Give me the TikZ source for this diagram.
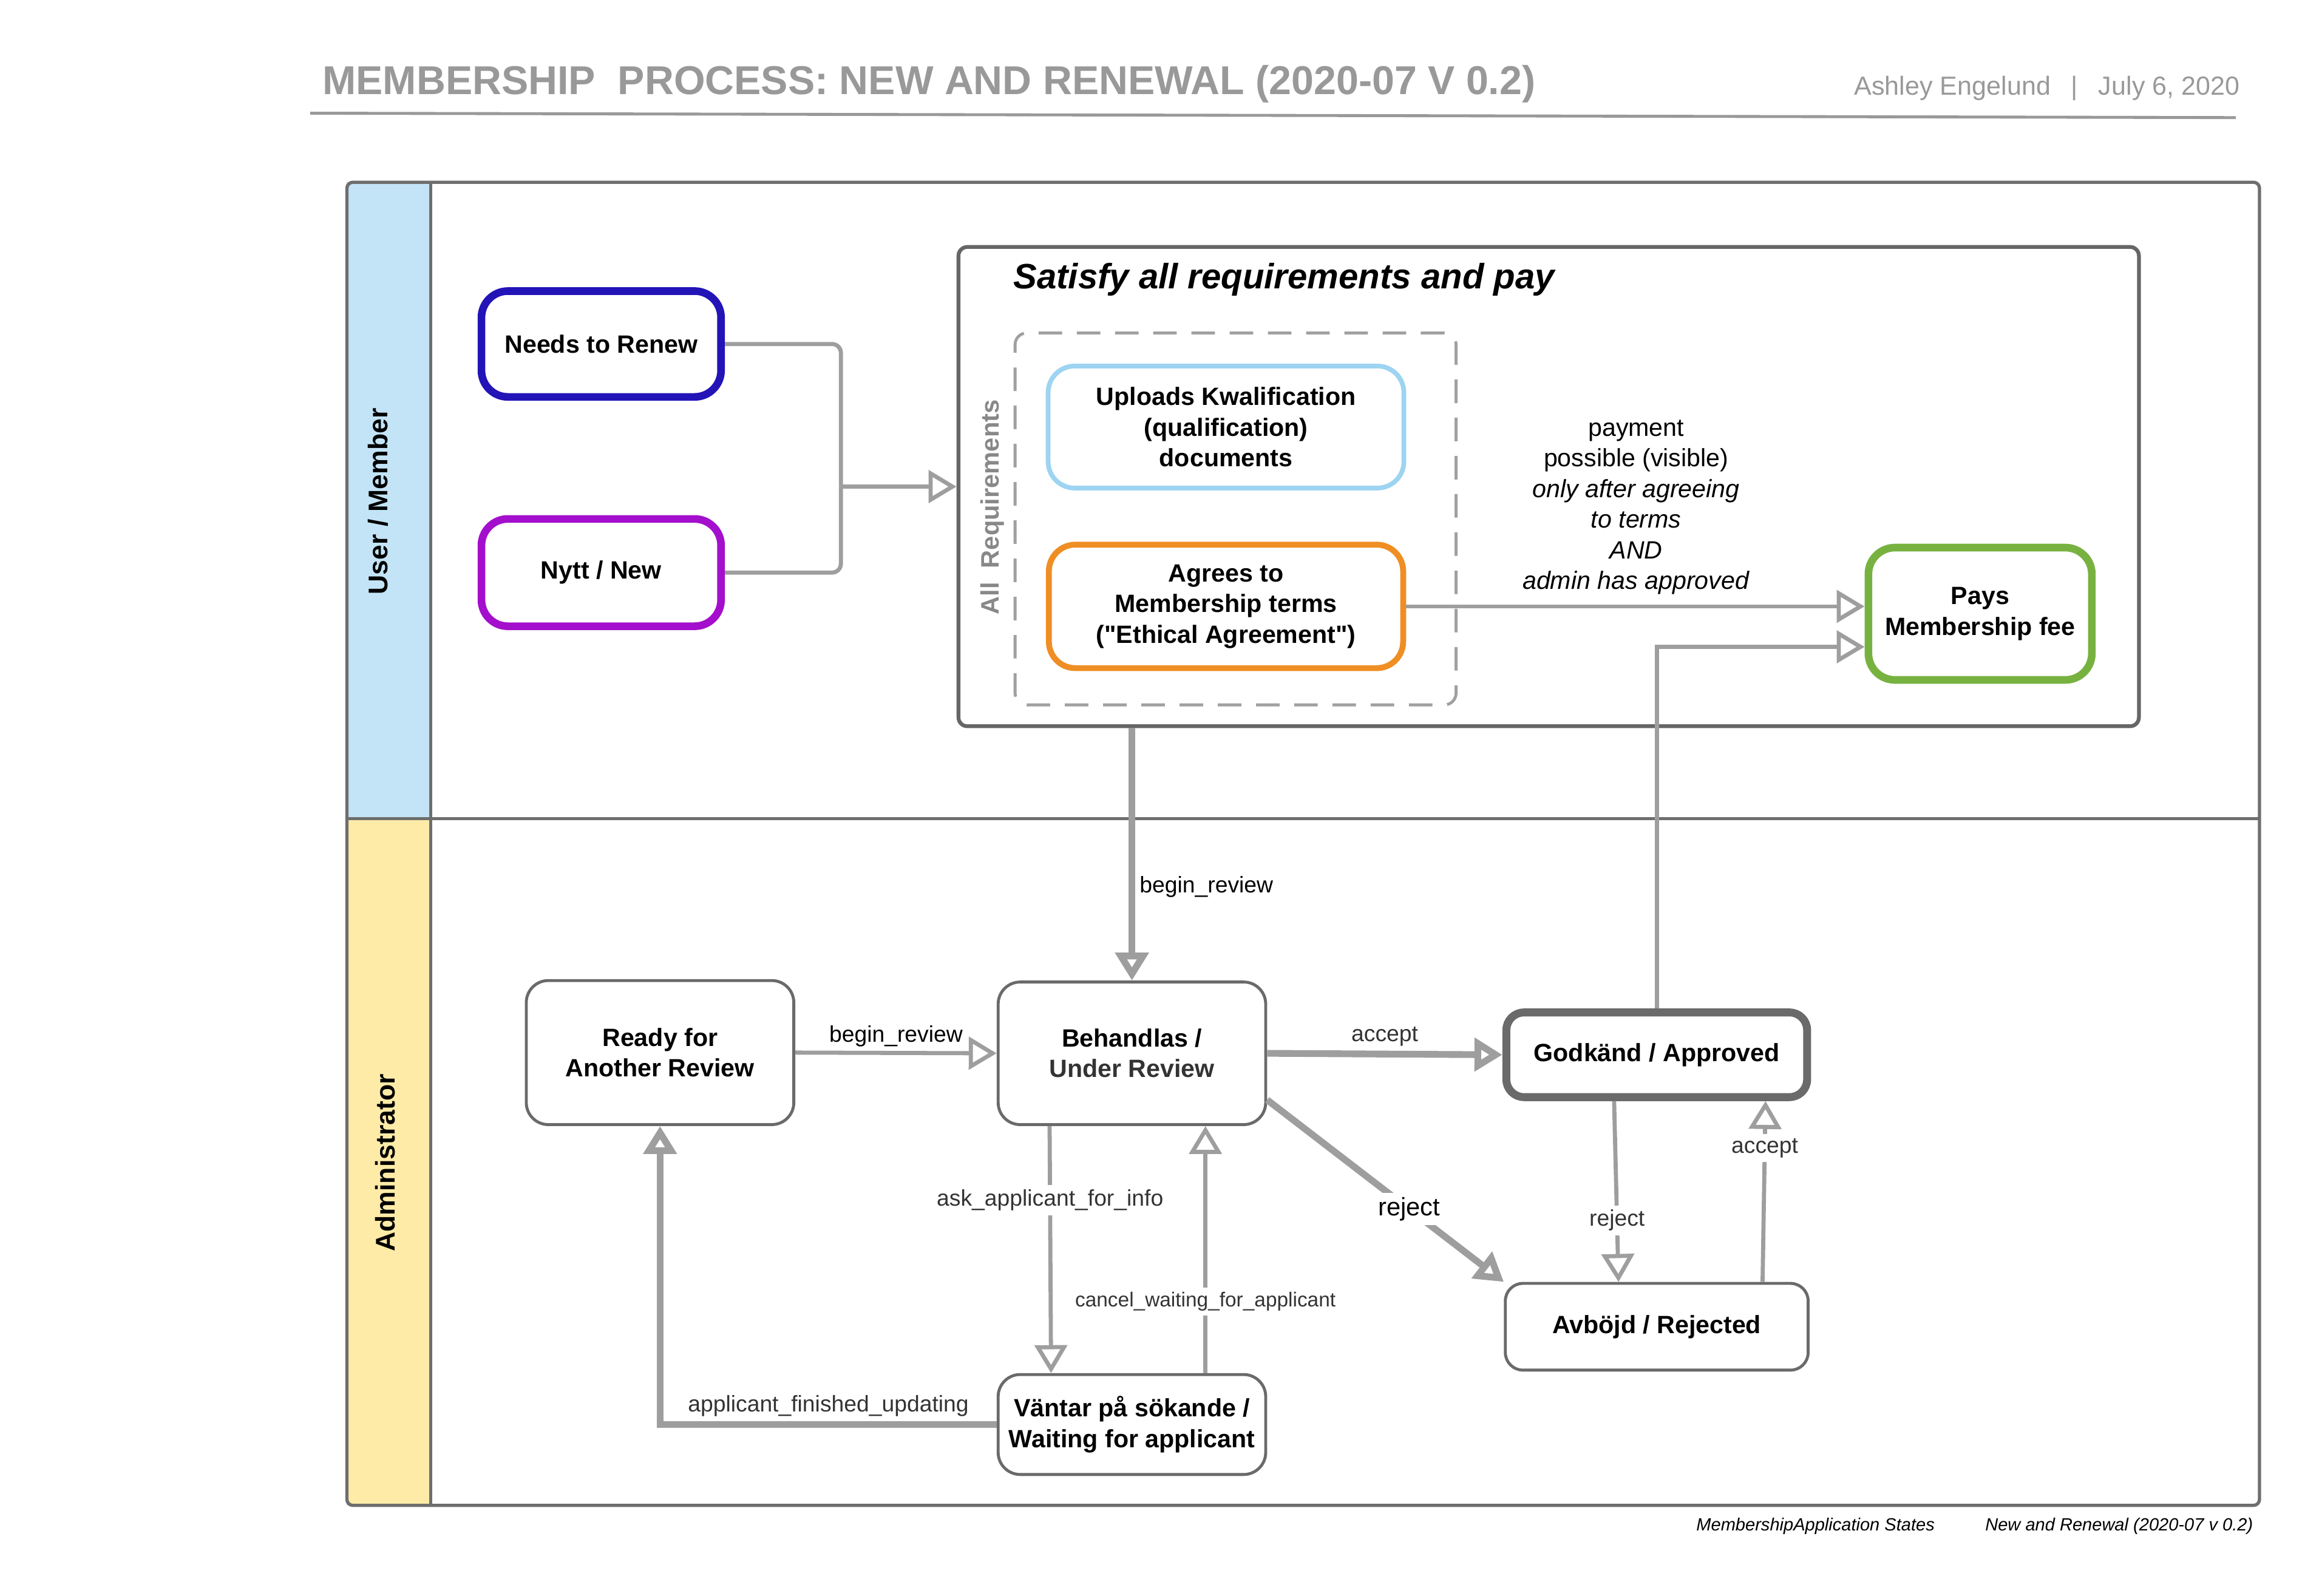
\documentclass[tikz,border=0pt]{standalone}
\usepackage{fontspec}
\setmainfont{Liberation Sans}[Ligatures=TeXOff]
\usepackage{tikz}
\usetikzlibrary{arrows.meta, calc}
\usepackage{xcolor}

\definecolor{titlegray}{HTML}{999999}
\definecolor{lanegray}{HTML}{6E6E6E}
\definecolor{userblue}{HTML}{C3E4F6}
\definecolor{adminyellow}{HTML}{FEEBA8}
\definecolor{stategray}{HTML}{6A6A6A}
\definecolor{flowgray}{HTML}{9E9E9E}
\definecolor{labelgray}{HTML}{333333}
\definecolor{satgray}{HTML}{666666}
\definecolor{reqgray}{HTML}{A0A0A0}
\definecolor{reqtext}{HTML}{888888}
\definecolor{renewblue}{HTML}{2314B8}
\definecolor{newpurple}{HTML}{A30FCC}
\definecolor{uploadblue}{HTML}{9DD4F1}
\definecolor{agreeorange}{HTML}{EF8E24}
\definecolor{paygreen}{HTML}{77B241}

\begin{document}
\begin{tikzpicture}[x=0.5pt,y=0.5pt,yscale=-1,xscale=1,
  state/.style={draw=stategray, line width=1pt, rounded corners=7.5pt, fill=white, align=center, inner sep=0pt, font=\fontsize{8.5}{10.4}\selectfont\bfseries},
  task/.style={state, rounded corners=9pt, line width=2.6pt},
  flow/.style={draw=flowgray, line width=1.4pt, -{Triangle[open, length=9.5pt, width=11pt]}},
  bigflow/.style={flow, line width=2.3pt},
  edgelabel/.style={font=\fontsize{7.7}{9}\selectfont, text=labelgray, inner sep=1.5pt},
  boxlabel/.style={edgelabel, fill=white}]
%set diagram to the size of the page
\useasboundingbox (0,0) rectangle (1568,1085.6);

% Text Node
\node[anchor=west, inner sep=0pt, text=titlegray, font=\fontsize{13.7}{16}\selectfont\bfseries] (title) at (219,57) {MEMBERSHIP\ \ PROCESS: NEW AND RENEWAL (2020-07 V 0.2)};
% Text Node
\node[anchor=east, inner sep=0pt, text=titlegray, font=\fontsize{8.9}{11}\selectfont] (author) at (1524,60) {Ashley Engelund\hspace{7pt}|\hspace{7pt}July 6, 2020};
%Straight Lines
\draw[titlegray, line width=1pt] (211,77) -- (1521,80);

%Shape: Swimlanes
\fill[userblue] (236,124) rectangle (293,557);
\fill[adminyellow] (236,557) rectangle (293,1024);
\draw[lanegray, line width=1.1pt, rounded corners=2pt] (236,124) rectangle (1537,1024);
\draw[lanegray, line width=1.1pt] (293,124) -- (293,1024);
\draw[lanegray, line width=1.1pt] (236,557) -- (1537,557);
% Text Node
\node[rotate=90, font=\fontsize{9.2}{11}\selectfont\bfseries] (userlane) at (257,341) {User / Member};
% Text Node
\node[rotate=90, font=\fontsize{9.2}{11}\selectfont\bfseries] (adminlane) at (262,791) {Administrator};

%Shape: Container
\node[draw=satgray, line width=1.3pt, rounded corners=3pt, minimum width=401.5pt, minimum height=163pt, inner sep=0pt] (sat) at (1053.5,331) {};
% Text Node
\node[anchor=west, inner sep=0pt, font=\fontsize{12}{14}\selectfont\bfseries\itshape] (sattitle) at (689,190) {Satisfy all requirements and pay};
%Shape: Dashed Group
\node[draw=reqgray, dash pattern=on 8pt off 5pt, line width=1pt, rounded corners=4pt, minimum width=150pt, minimum height=126.5pt, inner sep=0pt] (reqs) at (840.5,353) {};
% Text Node
\node[rotate=90, text=reqtext, font=\fontsize{8.6}{10}\selectfont\bfseries] (reqlabel) at (675,345) {All\ \ Requirements};

%Shape: User tasks
\node[task, draw=renewblue, minimum width=81.5pt, minimum height=36pt] (renew) at (409,234) {Needs to Renew};
\node[task, draw=newpurple, minimum width=81.5pt, minimum height=36.5pt] (new) at (409,389.5) {Nytt / New};
\node[task, draw=uploadblue, line width=1.6pt, minimum width=121pt, minimum height=41.5pt] (uploads) at (834,290.5) {Uploads Kwalification\\(qualification)\\documents};
\node[task, draw=agreeorange, line width=2pt, minimum width=120.5pt, minimum height=42pt] (agrees) at (834,412.5) {Agrees to\\Membership terms\\("Ethical Agreement")};
\node[task, draw=paygreen, minimum width=76pt, minimum height=45pt] (pays) at (1347,417.5) {Pays\\Membership fee};

% Text Node
\node[align=center, inner sep=0pt, font=\fontsize{8.5}{10.4}\selectfont] (paynote) at (1113,345) {payment\\possible (visible)\\\textit{only after agreeing}\\\textit{to terms}\\\textit{AND}\\\textit{admin has approved}};

%Shape: Admin states
\node[state, minimum width=91pt, minimum height=49pt] (ready) at (449,716) {Ready for\\Another Review};
\node[state, minimum width=91pt, minimum height=48.5pt] (review) at (770,716.5) {Behandlas /\\\textcolor{labelgray}{Under Review}};
\node[state, line width=2.7pt, rounded corners=6pt, minimum width=102.3pt, minimum height=28.8pt] (approved) at (1127,717.5) {Godkänd / Approved};
\node[state, rounded corners=6pt, minimum width=103pt, minimum height=29.5pt] (rejected) at (1127,902.5) {Avböjd / Rejected};
\node[state, minimum width=91pt, minimum height=34pt] (waiting) at (770,969) {Väntar på sökande /\\Waiting for applicant};

%Connectors
\coordinate (join) at (572,331);
\draw[flowgray, line width=1.4pt, rounded corners=3pt] (renew.east) -| (join);
\draw[flowgray, line width=1.4pt, rounded corners=3pt] (new.east) -| (join);
\draw[flow] (join) -- (sat.west);
\draw[flow] (agrees.east) -- (agrees.east -| pays.west);
\draw[flow] (approved.north) |- ($(pays.west)+(0,22.5)$);
\draw[bigflow] (sat.south -| review.north) -- node[edgelabel, right, pos=0.63, text=black] {begin\_review} (review.north);
\draw[flow] (ready.east) -- node[edgelabel, above, text=black] {begin\_review} (review.west);
\draw[bigflow] (review.east) -- node[edgelabel, above] {accept} (approved.west);
\draw[bigflow] (review.-19) -- node[boxlabel, pos=0.6, text=black, font=\fontsize{8.6}{10}\selectfont] {reject} (rejected.north west);
\draw[flow] ($(approved.south)+(-29,0)$) -- node[boxlabel, pos=0.66] {reject} ($(rejected.north)+(-26,0)$);
\draw[flow] ($(rejected.north)+(72,0)$) -- node[boxlabel, pos=0.74] {accept} ($(approved.south)+(74,0)$);
\draw[flow] ($(review.south)+(-56,0)$) -- node[boxlabel, pos=0.3] {ask\_applicant\_for\_info} ($(waiting.north)+(-55,0)$);
\draw[flow] ($(waiting.north)+(50,0)$) -- node[boxlabel, pos=0.29, font=\fontsize{6.9}{8}\selectfont] {cancel\_waiting\_for\_applicant} ($(review.south)+(50,0)$);
\draw[bigflow] (waiting.west) -| node[edgelabel, above, pos=0.25] {applicant\_finished\_updating} (ready.south);

% Text Node
\node[inner sep=0pt, font=\fontsize{6}{7}\selectfont\itshape] (footleft) at (1235,1038) {MembershipApplication States};
% Text Node
\node[anchor=east, inner sep=0pt, font=\fontsize{6}{7}\selectfont\itshape] (footright) at (1533,1038) {New and Renewal (2020-07 v 0.2)};

\end{tikzpicture}
\end{document}
